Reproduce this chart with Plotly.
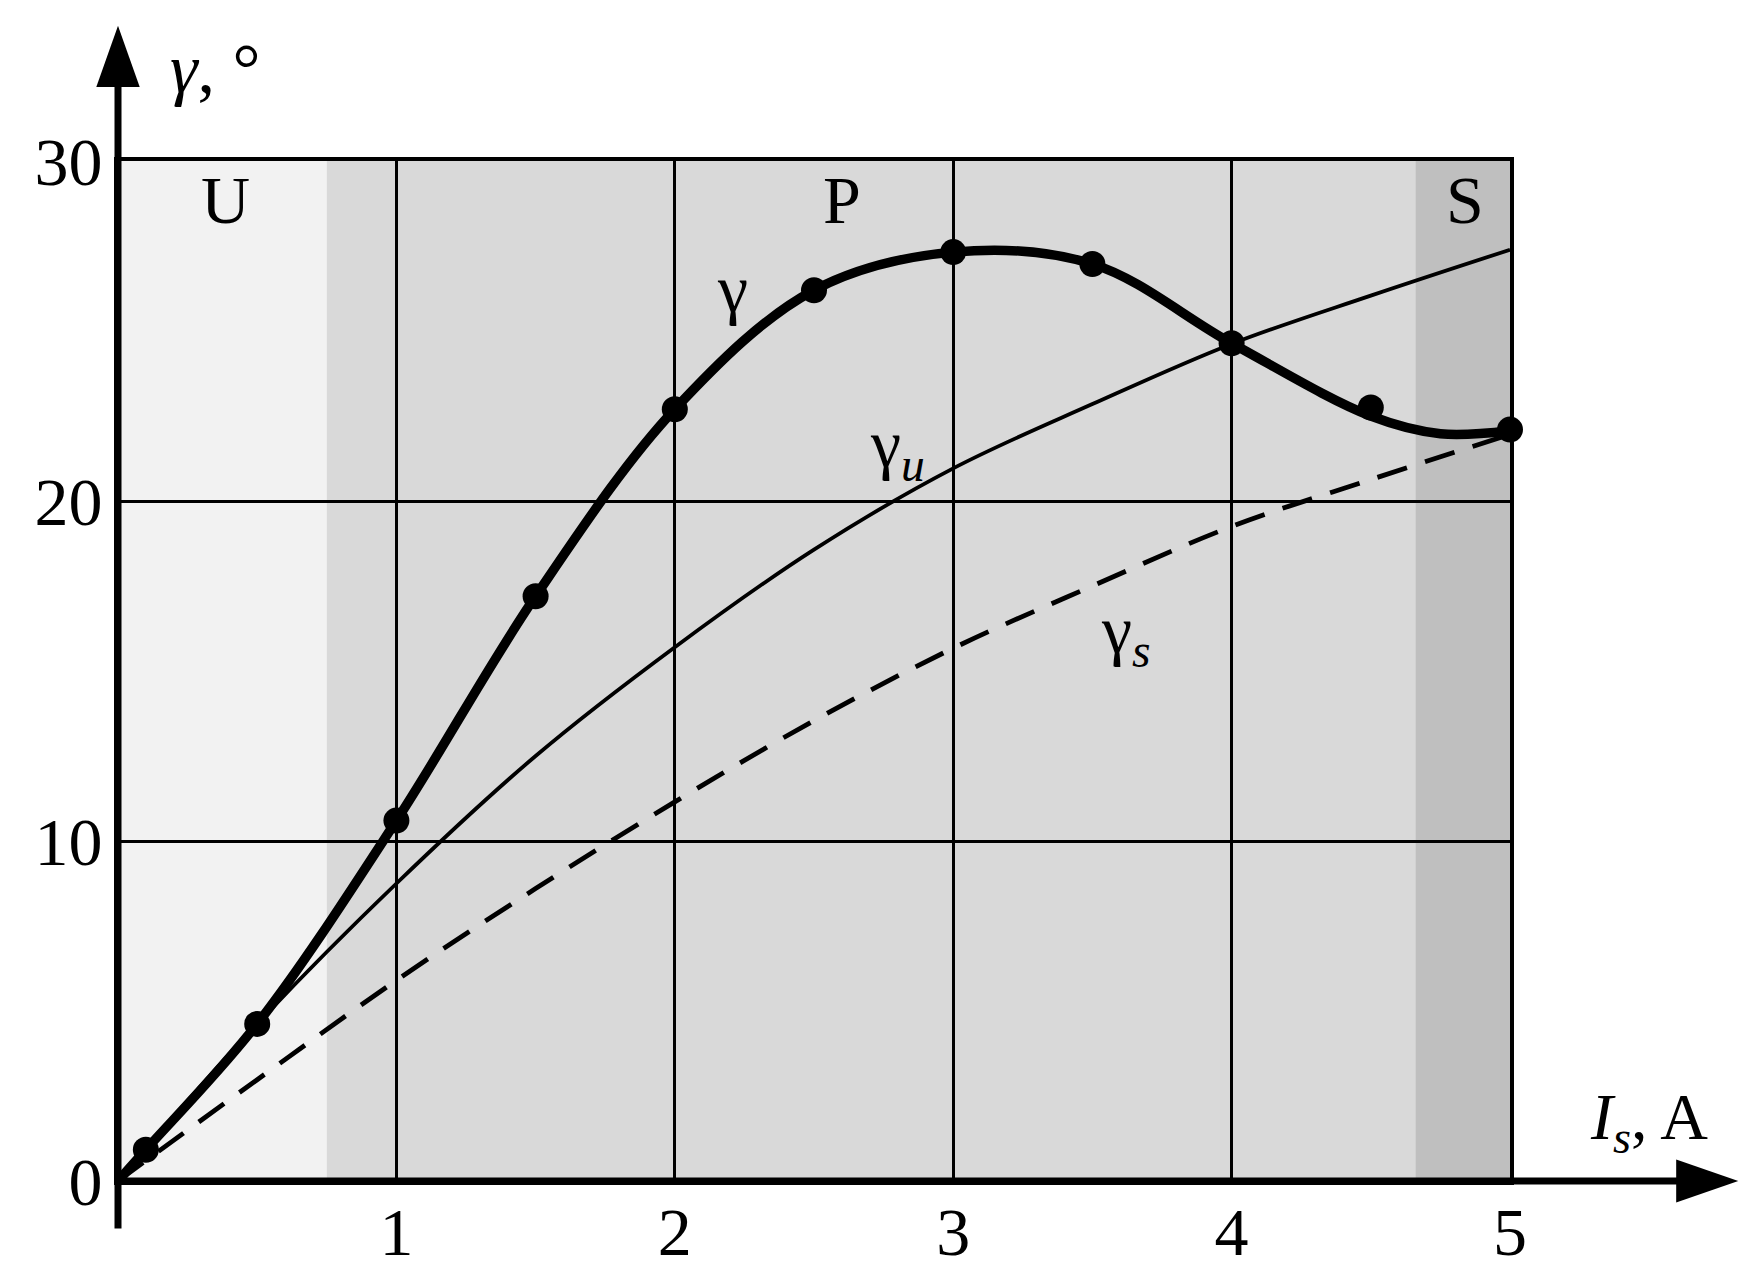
import plotly.graph_objects as go

# measured points on the gamma curve (markers)
x_meas = [0.1, 0.5, 1.0, 1.5, 2.0, 2.5, 3.0, 3.5, 4.0, 4.5, 5.0]
gamma_meas = [0.92, 4.62, 10.6, 17.2, 22.7, 26.2, 27.32, 26.97, 24.64, 22.75, 22.1]

# smoothed gamma curve
x_gamma = [0, 0.1, 0.5, 1.0, 1.5, 2.0, 2.5, 3.0, 3.5, 4.0, 4.5, 4.75, 5.0]
gamma = [0, 0.92, 4.62, 10.6, 17.2, 22.7, 26.2, 27.32, 26.97, 24.64, 22.5, 21.98, 22.07]

x_comp = [0, 0.5, 1.0, 1.5, 2.0, 2.5, 3.0, 3.5, 4.0, 4.5, 5.0]
gamma_u = [0, 4.62, 8.75, 12.5, 15.7, 18.57, 20.96, 22.85, 24.62, 26.04, 27.39]
gamma_s = [0, 2.98, 5.9, 8.6, 11.15, 13.54, 15.67, 17.5, 19.25, 20.63, 21.96]

# operating regions
region_names = ["U", "P", "S"]
region_start = [0, 0.75, 4.66]
region_end = [0.75, 4.66, 5.0]
region_colors = ["#f2f2f2", "#d9d9d9", "#bfbfbf"]
region_label_x = [0.387, 2.6, 4.84]

x_ticks = [1, 2, 3, 4, 5]
y_ticks = [0, 10, 20, 30]

FONT = "Liberation Serif"
X_MAX, Y_MAX = 5.0, 30.0

fig = go.Figure()

fig.add_trace(go.Scatter(x=x_comp, y=gamma_s, mode="lines",
                         line=dict(color="black", width=4.8, dash="31px,19px",
                                   shape="spline", smoothing=1)))
fig.add_trace(go.Scatter(x=x_comp, y=gamma_u, mode="lines",
                         line=dict(color="black", width=3.8,
                                   shape="spline", smoothing=1)))
fig.add_trace(go.Scatter(x=x_gamma, y=gamma, mode="lines",
                         line=dict(color="black", width=9.5,
                                   shape="spline", smoothing=1)))
fig.add_trace(go.Scatter(x=x_meas, y=gamma_meas, mode="markers",
                         marker=dict(color="black", size=26), cliponaxis=False))

shapes = []
for x0, x1, c in zip(region_start, region_end, region_colors):
    shapes.append(dict(type="rect", xref="x", yref="y", x0=x0, x1=x1, y0=0, y1=Y_MAX,
                       fillcolor=c, line_width=0, layer="below"))


def px(x):
    return x / X_MAX


def py(y):
    return y / Y_MAX


# thick axes with arrow heads (paper coordinates from data units)
shapes.append(dict(type="line", xref="paper", yref="paper",
                   x0=px(0), x1=px(0), y0=py(-1.4), y1=py(32.5),
                   line=dict(color="black", width=7)))
shapes.append(dict(type="line", xref="paper", yref="paper",
                   x0=px(-0.01), x1=px(5.65), y0=py(0), y1=py(0),
                   line=dict(color="black", width=7)))
shapes.append(dict(type="path", xref="paper", yref="paper",
                   path=f"M {px(-0.078)} {py(32.18)} L {px(0.078)} {py(32.18)} "
                        f"L {px(0)} {py(33.98)} Z",
                   fillcolor="black", line_width=0))
shapes.append(dict(type="path", xref="paper", yref="paper",
                   path=f"M {px(5.597)} {py(-0.63)} L {px(5.597)} {py(0.63)} "
                        f"L {px(5.82)} {py(0)} Z",
                   fillcolor="black", line_width=0))

annotations = []
for name, lx in zip(region_names, region_label_x):
    annotations.append(dict(x=lx, y=28.86, text=name, showarrow=False,
                            font=dict(family=FONT, size=68, color="black")))

curve_labels = [
    (2.207, 26.23, "γ"),
    (2.80, 21.55, "γ<sub><i>u</i></sub>"),
    (3.622, 16.08, "γ<sub><i>s</i></sub>"),
]
for lx, ly, t in curve_labels:
    annotations.append(dict(x=lx, y=ly, text=t, showarrow=False,
                            font=dict(family=FONT, size=68, color="black")))

# axis titles sit outside the axis ranges, so they use paper coordinates
annotations.append(dict(x=px(0.18), y=py(32.71), xref="paper", yref="paper",
                        text="<i>γ</i>, °", showarrow=False,
                        xanchor="left", yanchor="middle",
                        font=dict(family=FONT, size=70, color="black")))
annotations.append(dict(x=px(5.281), y=py(1.76), xref="paper", yref="paper",
                        text="<i>I<sub>s</sub></i>, A", showarrow=False,
                        xanchor="left", yanchor="middle",
                        font=dict(family=FONT, size=66, color="black")))

fig.update_layout(
    width=1758, height=1282,
    margin=dict(l=118, r=248, t=161, b=90),
    paper_bgcolor="white", plot_bgcolor="white",
    showlegend=False,
    shapes=shapes, annotations=annotations,
    font=dict(family=FONT, size=68, color="black"),
)
fig.update_xaxes(range=[0, X_MAX], tickvals=x_ticks, ticktext=[str(v) for v in x_ticks],
                 showgrid=True, gridcolor="black", gridwidth=3.2, zeroline=False,
                 showline=True, mirror=True, linecolor="black", linewidth=4,
                 ticks="outside", ticklen=8, tickcolor="rgba(0,0,0,0)",
                 ticklabelstandoff=-20,
                 tickfont=dict(family=FONT, size=68, color="black"))
fig.update_yaxes(range=[0, Y_MAX], tickvals=y_ticks, ticktext=[str(v) for v in y_ticks],
                 showgrid=True, gridcolor="black", gridwidth=3.2, zeroline=False,
                 showline=True, mirror=True, linecolor="black", linewidth=4,
                 ticks="outside", ticklen=8, tickcolor="rgba(0,0,0,0)",
                 ticklabelstandoff=-10,
                 tickfont=dict(family=FONT, size=68, color="black"))

fig.write_html("out.html", config={"displayModeBar": False},
               post_script="document.body.style.margin='0';"
                           "document.body.style.overflow='hidden';")
